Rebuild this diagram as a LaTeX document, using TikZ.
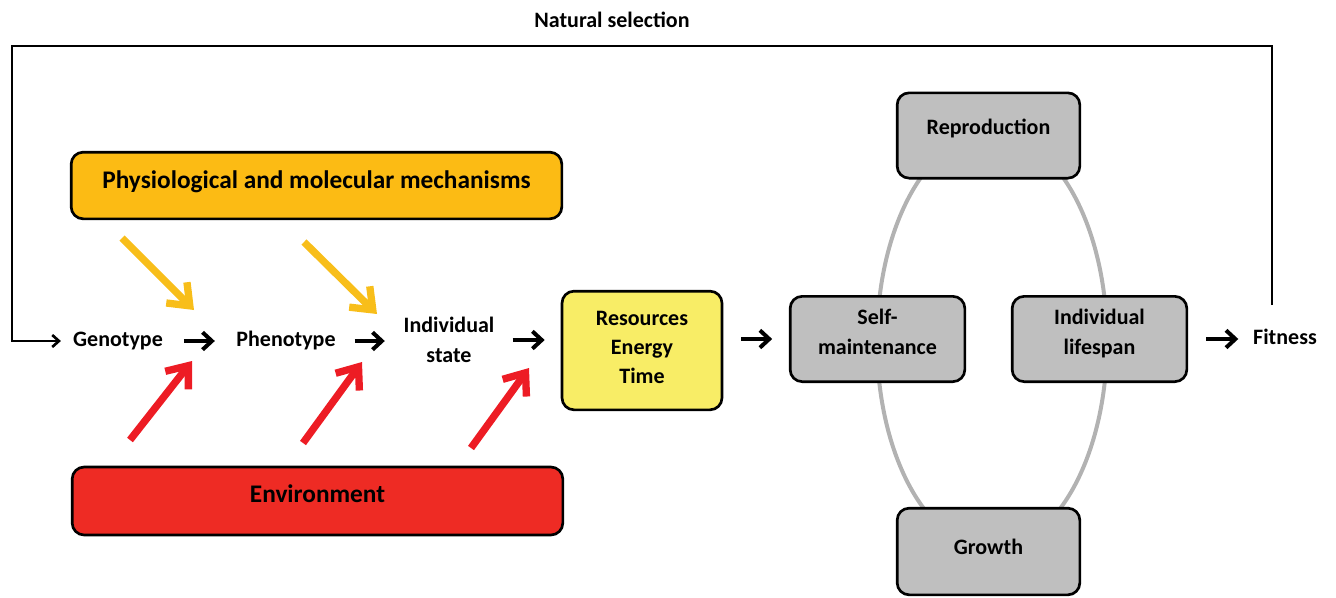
\documentclass[tikz,border=0pt]{standalone}
\usepackage{fontspec}
\setmainfont{Carlito}
\usetikzlibrary{arrows.meta}
\definecolor{orng}{RGB}{252,187,20}
\definecolor{envred}{RGB}{238,43,36}
\definecolor{resyel}{RGB}{248,237,102}
\definecolor{boxgray}{RGB}{191,191,191}
\definecolor{ellgray}{RGB}{178,178,178}
\definecolor{yarrow}{RGB}{248,190,26}
\definecolor{rarrow}{RGB}{237,28,36}
\begin{document}
\begin{tikzpicture}[x=0.75pt,y=-0.75pt,
  font=\bfseries\fontsize{16.5}{22}\selectfont,
  txt/.style={inner sep=0pt, align=center},
  box/.style={draw=black, line width=2pt, rounded corners=9pt, inner sep=0pt, align=center},
  bigtxt/.style={font=\bfseries\fontsize{19}{23}\selectfont},
  blk/.style={-{Straight Barb[length=7pt,width=13pt]}, line width=3pt},
  fb/.style={-{Straight Barb[length=5pt,width=9pt]}, line width=2pt},
  yarr/.style={draw=yarrow, -{Straight Barb[length=14pt,width=22pt]}, line width=5.5pt},
  rarr/.style={draw=rarrow, -{Straight Barb[length=14pt,width=22pt]}, line width=5.5pt}]
\useasboundingbox (0,0) rectangle (1336,597);

% ellipse of trade-offs
\draw[ellgray, line width=3pt] (992,341) ellipse [x radius=115, y radius=208];

% boxes
\node[box, bigtxt, fill=orng, minimum width=368pt, minimum height=50pt, text depth=9pt] (mech) at (316.5,185.5) {Physiological and molecular mechanisms};
\node[box, bigtxt, fill=envred, minimum width=368pt, minimum height=51pt, text depth=10.5pt] (env) at (317.5,501) {Environment};
\node[box, fill=resyel, minimum width=120pt, minimum height=89pt, text depth=4.5pt] (res) at (642,350.5) {Resources\\Energy\\Time};
\node[box, fill=boxgray, minimum width=137pt, minimum height=64pt, text depth=13pt] (repro) at (988.5,135.5) {Reproduction};
\node[box, fill=boxgray, minimum width=131pt, minimum height=64pt, text depth=11pt] (self) at (877.5,339) {Self-\\maintenance};
\node[box, fill=boxgray, minimum width=131pt, minimum height=64pt, text depth=11pt] (life) at (1099.5,339) {Individual\\lifespan};
\node[box, fill=boxgray, minimum width=137pt, minimum height=65pt, text depth=7pt] (growth) at (988.5,551.5) {Growth};

% text nodes
\node[txt] (geno) at (118,341) {Genotype};
\node[txt] (pheno) at (286,341) {Phenotype};
\node[txt] (state) at (449,340) {Individual\\state};
\node[txt] (fit) at (1285,337) {Fitness};
\node[txt] (ns) at (612,20) {Natural selection};

% main chain arrows
\draw[blk, shorten <=15.5pt, shorten >=16pt] (geno) -- (pheno);
\draw[blk, shorten <=14pt, shorten >=14pt] (pheno.east) -- (pheno.east -| state.west);
\draw[blk, shorten <=13.5pt, shorten >=12pt] (state.east) -- (state.east -| res.west);
\draw[blk, shorten <=13.5pt, shorten >=12.5pt] (res.east |- self.west) -- (self.west);
\draw[blk, shorten <=13.5pt, shorten >=11pt] (life.east) -- (life.east -| fit.west);

% natural selection feedback
\coordinate (fbstart) at (1272,305);
\coordinate (fbtr) at (1272,46);
\coordinate (fbtl) at (12,46);
\draw[fb, shorten >=9pt] (fbstart) -- (fbtr) -- (fbtl) |- (geno.west);

% mechanism arrows
\coordinate (y1s) at (122,238); \coordinate (y1e) at (194,310);
\coordinate (y2s) at (304,242); \coordinate (y2e) at (377,314);
\draw[yarr] (y1s) -- (y1e);
\draw[yarr] (y2s) -- (y2e);

% environment arrows
\coordinate (r1s) at (130,440); \coordinate (r1e) at (192,361);
\coordinate (r2s) at (303,443); \coordinate (r2e) at (362,362);
\coordinate (r3s) at (471,448); \coordinate (r3e) at (529,368);
\draw[rarr] (r1s) -- (r1e);
\draw[rarr] (r2s) -- (r2e);
\draw[rarr] (r3s) -- (r3e);
\end{tikzpicture}
\end{document}
